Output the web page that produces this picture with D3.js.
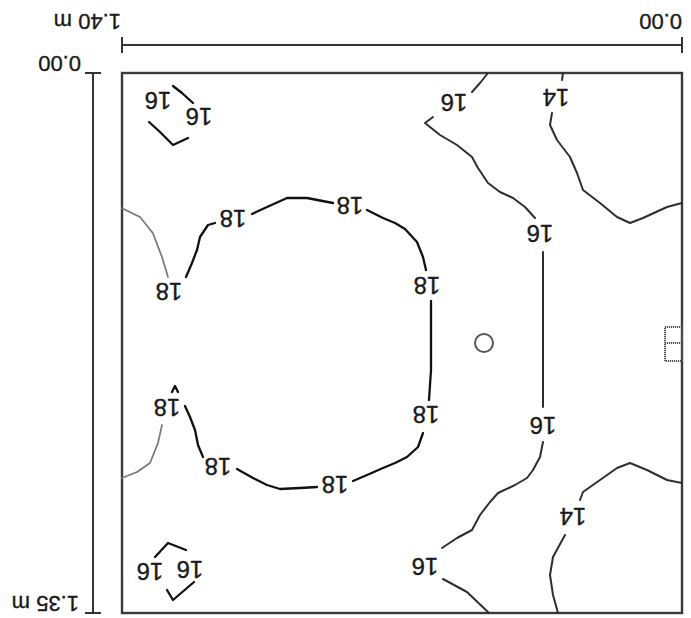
<!DOCTYPE html>
<html><head><meta charset="utf-8">
<script src="https://cdn.jsdelivr.net/npm/d3@7"></script>
<style>body{margin:0;background:#fff}svg{display:block}</style>
</head><body>
<svg id="c" width="691" height="618"></svg>
<script>
// Plan extent (metres)
const widthM = 1.40, depthM = 1.35;
const scaleLabels = ["0.00", "1.40 m", "0.00", "1.35 m"];

// Isolines (metres); each array is one drawn stroke segment
const iso18Main = [
  [[1.240,0.510],[1.225,0.475],[1.2125,0.4425],[1.205,0.41],[1.185,0.38],[1.1675,0.375]],
  [[1.075,0.3525],[1.0375,0.335],[0.9875,0.3125],[0.9375,0.3125],[0.8725,0.325]],
  [[0.7875,0.3425],[0.7475,0.3625],[0.7175,0.375],[0.6925,0.39],[0.6625,0.4225],[0.6475,0.46],[0.64,0.4925]],
  [[0.6275,0.57],[0.6275,0.7425],[0.6325,0.8175]],
  [[0.6475,0.90],[0.66,0.935],[0.6875,0.96],[0.7175,0.975],[0.7475,0.9875],[0.7875,1.005],[0.8225,1.02]],
  [[0.9125,1.035],[0.955,1.0375],[1.005,1.04],[1.0375,1.03],[1.0725,1.0125],[1.1125,0.99]],
  [[1.1975,0.96],[1.21,0.93],[1.2175,0.8925],[1.23,0.86],[1.2425,0.8325]],
  [[1.275,0.7975],[1.2675,0.7825],[1.26,0.7975]]
];
const iso18Edge = [
  [[1.400,0.338],[1.355,0.360],[1.323,0.400],[1.300,0.460],[1.285,0.510]],
  [[1.300,0.88],[1.310,0.925],[1.330,0.975],[1.3625,0.9975],[1.400,1.0125]]
];
const iso16Loops = [
  [[1.2725,0.0325],[1.25,0.05],[1.2225,0.075]],
  [[1.3325,0.1225],[1.305,0.1475],[1.2725,0.18],[1.235,0.1625]],
  [[1.3175,1.21],[1.285,1.175],[1.24,1.1925]],
  [[1.2875,1.2925],[1.2725,1.3175],[1.22,1.2725]]
];
const iso16Right = [
  [[0.485,0.0],[0.505,0.025],[0.525,0.0475]],
  [[0.6225,0.11],[0.6425,0.125],[0.605,0.155],[0.5625,0.18],[0.525,0.21],[0.51,0.2375],[0.485,0.275],[0.455,0.2975],[0.4225,0.3125],[0.3925,0.335],[0.3675,0.3625]],
  [[0.3475,0.4475],[0.3475,0.6425],[0.3475,0.835]],
  [[0.3475,0.9225],[0.355,0.96],[0.3725,0.9925],[0.3875,1.0125],[0.4175,1.03],[0.46,1.05],[0.48,1.0725],[0.505,1.105],[0.525,1.1425],[0.5625,1.1625],[0.60,1.1875]],
  [[0.5975,1.265],[0.5375,1.2975],[0.4825,1.35]]
];
const iso14 = [
  [[0.2975,0.0],[0.30,0.0175]],
  [[0.325,0.10],[0.33,0.13],[0.3125,0.1675],[0.28,0.21],[0.2625,0.25],[0.2475,0.2925],[0.205,0.325],[0.1625,0.36],[0.13,0.375],[0.0975,0.3625],[0.0375,0.335],[0.0,0.325]],
  [[0.0,1.025],[0.0375,1.0175],[0.0875,0.9925],[0.13,0.975],[0.1625,0.9875],[0.205,1.0175],[0.2475,1.0475],[0.255,1.0675]],
  [[0.2925,1.155],[0.3225,1.21],[0.33,1.255],[0.3225,1.305],[0.31,1.35]]
];
// Isoline labels: [x, y, value]
const isoLabels = [
  [1.1225,0.365,"18"],[0.83,0.3325,"18"],[0.6375,0.5325,"18"],[0.64,0.855,"18"],
  [0.8675,1.03,"18"],[1.16,0.985,"18"],[1.2875,0.8375,"18"],[1.2825,0.5475,"18"],
  [1.31,0.07,"16"],[1.2075,0.11,"16"],[1.33,1.2475,"16"],[1.23,1.2425,"16"],
  [0.57,0.075,"16"],[0.355,0.4025,"16"],[0.3475,0.8825,"16"],[0.6425,1.235,"16"],
  [0.315,0.0625,"14"],[0.2725,1.11,"14"]
];
// Markers
const sensor = [0.495, 0.675];
const radiator = {x0:0.0, x1:0.0425, y0:0.635, y1:0.72, ym:0.675};

const svg = d3.select("#c");
const x = d3.scaleLinear().domain([0, widthM]).range([682, 122]);
const y = d3.scaleLinear().domain([0, depthM]).range([73, 613]);
const line = d3.line().x(d => x(d[0])).y(d => y(d[1]));
const font = "'Liberation Sans', Arial, sans-serif";

// frame
svg.append("rect").attr("x", x(widthM)).attr("y", y(0))
  .attr("width", x(0) - x(widthM)).attr("height", y(depthM) - y(0))
  .attr("fill", "none").attr("stroke", "#3a3a3a").attr("stroke-width", 2.4);

// scale bars
const sb = svg.append("g").attr("stroke", "#333").attr("stroke-width", 2);
sb.append("line").attr("x1", x(0)).attr("x2", x(widthM)).attr("y1", 45).attr("y2", 45);
[0, widthM].forEach(v => sb.append("line").attr("x1", x(v)).attr("x2", x(v)).attr("y1", 37).attr("y2", 53));
sb.append("line").attr("x1", 93).attr("x2", 93).attr("y1", y(0)).attr("y2", y(depthM));
[0, depthM].forEach(v => sb.append("line").attr("x1", 85).attr("x2", 101).attr("y1", y(v)).attr("y2", y(v)));

function flipText(px, py, str, size, anchor, dy) {
  svg.append("text").attr("x", px).attr("y", py).attr("dy", dy || 0)
    .attr("text-anchor", anchor).attr("font-family", font).attr("font-size", size)
    .attr("fill", "#1a1a1a").attr("stroke", "#1a1a1a").attr("stroke-width", 0.35)
    .attr("transform", `rotate(180,${px},${py})`).text(str);
}
flipText(x(0), 14, scaleLabels[0], 22, "start");
flipText(x(widthM) - 1, 14, scaleLabels[1], 22, "start");
flipText(81, y(0) - 17, scaleLabels[2], 22, "start");
flipText(79, y(depthM) - 17, scaleLabels[3], 22, "start");

function draw(segs, color, w) {
  svg.append("g").selectAll("path").data(segs).join("path")
    .attr("d", line).attr("fill", "none").attr("stroke", color)
    .attr("stroke-width", w).attr("stroke-linejoin", "round").attr("stroke-linecap", "round");
}
draw(iso18Edge, "#777", 1.7);
draw(iso18Main, "#111", 2.3);
draw(iso16Loops, "#111", 2.3);
draw(iso16Right, "#2e2e2e", 2);
draw(iso14, "#2e2e2e", 2);

isoLabels.forEach(d => flipText(x(d[0]), y(d[1]), d[2], 24, "middle", "0.36em"));

// sensor circle
svg.append("circle").attr("cx", x(sensor[0])).attr("cy", y(sensor[1])).attr("r", 9)
  .attr("fill", "none").attr("stroke", "#555").attr("stroke-width", 2);
// radiator symbol
const rg = svg.append("g").attr("fill", "none").attr("stroke", "#555").attr("stroke-width", 2).attr("stroke-dasharray", "1.2,0.8");
rg.append("rect").attr("x", x(radiator.x1)).attr("y", y(radiator.y0))
  .attr("width", x(radiator.x0) - x(radiator.x1)).attr("height", y(radiator.y1) - y(radiator.y0));
rg.append("line").attr("x1", x(radiator.x1)).attr("x2", x(radiator.x0)).attr("y1", y(radiator.ym)).attr("y2", y(radiator.ym));
</script>
</body></html>
